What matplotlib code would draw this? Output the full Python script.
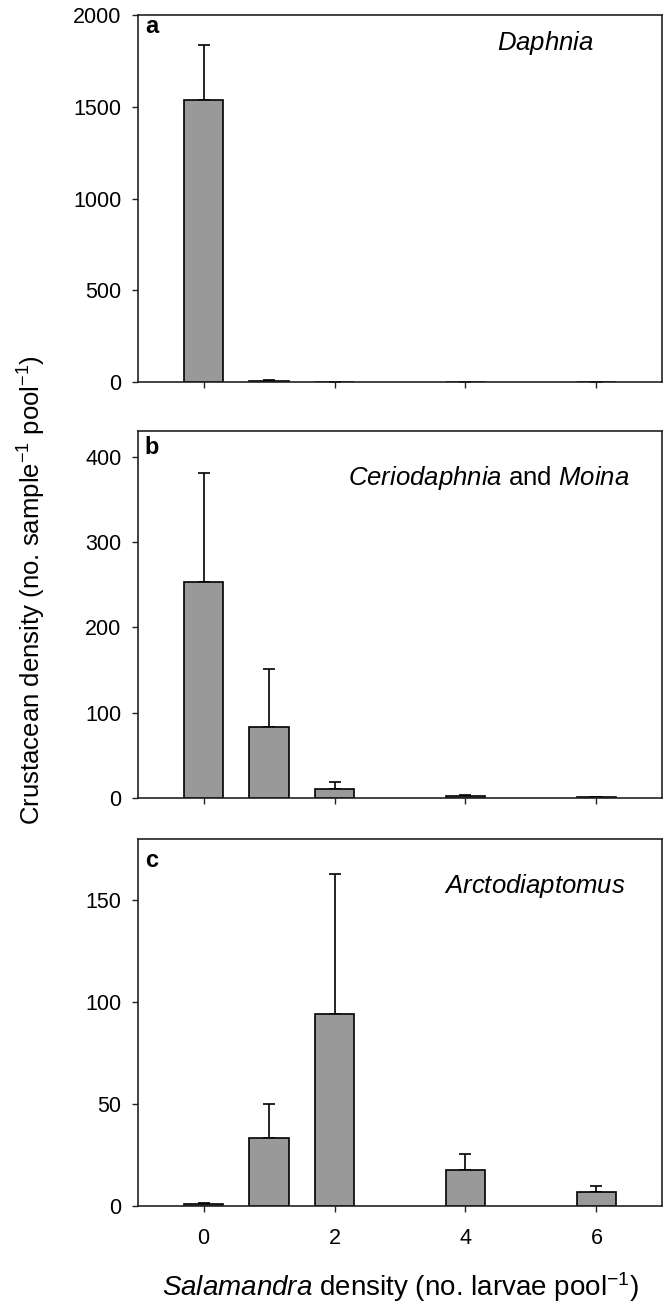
import matplotlib
matplotlib.use("Agg")
import matplotlib.pyplot as plt

plt.rcParams['font.family'] = ['Liberation Sans', 'DejaVu Sans']
plt.rcParams['mathtext.fontset'] = 'custom'
plt.rcParams['mathtext.rm'] = 'Liberation Sans'
plt.rcParams['mathtext.it'] = 'Liberation Sans:italic'
plt.rcParams['mathtext.bf'] = 'Liberation Sans:bold'

# salamander larvae per pool
densities = [0, 1, 2, 4, 6]

# panel a - Daphnia
daphnia_mean = [1538, 8, 1, 0, 0]
daphnia_se = [300, 4, 1, 0, 0]

# panel b - Ceriodaphnia and Moina
cerio_mean = [253, 83, 10, 2, 1]
cerio_se = [128, 68, 9, 1, 0.5]

# panel c - Arctodiaptomus
arcto_mean = [1, 33.5, 94, 17.5, 7]
arcto_se = [0.5, 16.5, 69, 8, 2.8]

panel_letters = ['a', 'b', 'c']
species_labels = [r'$\mathit{Daphnia}$',
                  r'$\mathit{Ceriodaphnia}$ and $\mathit{Moina}$',
                  r'$\mathit{Arctodiaptomus}$']
y_limits = [2000, 430, 180]
y_ticks = [[0, 500, 1000, 1500, 2000],
           [0, 100, 200, 300, 400],
           [0, 50, 100, 150]]
x_ticks = [0, 2, 4, 6]

means = [daphnia_mean, cerio_mean, arcto_mean]
errors = [daphnia_se, cerio_se, arcto_se]

fig = plt.figure(figsize=(6.67, 13.03), dpi=100)

# axes boxes in figure fraction
left, width, height = 0.2069, 0.7856, 0.2817
bottoms = [0.7068, 0.3876, 0.0744]
letter_y = [0.951, 0.937, 0.924]
species_pos = [(0.87, 0.905), (0.939, 0.853), (0.93, 0.853)]

for i in range(3):
    ax = fig.add_axes([left, bottoms[i], width, height])
    ax.bar(densities, means[i], width=0.6, color='#999999',
           edgecolor='black', linewidth=1.2, zorder=2)
    ax.errorbar(densities, means[i], yerr=[[0] * 5, errors[i]], fmt='none',
                ecolor='black', elinewidth=1.2, capsize=4.5, capthick=1.2,
                zorder=1)
    ax.set_xlim(-1, 7)
    ax.set_ylim(0, y_limits[i])
    ax.set_yticks(y_ticks[i])
    ax.set_xticks(x_ticks)
    ax.tick_params(direction='out', length=4, width=1.0, labelsize=15.5,
                   color='#222222')
    ax.tick_params(axis='y', pad=8)
    ax.tick_params(axis='x', pad=12)
    if i < 2:
        ax.set_xticklabels([])
    for sp in ax.spines.values():
        sp.set_linewidth(1.2)
        sp.set_color('#222222')
    ax.text(0.013, letter_y[i], panel_letters[i], transform=ax.transAxes,
            fontsize=17, fontweight='bold', va='baseline', ha='left')
    ax.text(species_pos[i][0], species_pos[i][1], species_labels[i],
            transform=ax.transAxes, fontsize=18.5, ha='right', va='baseline')

fig.text(0.048, 0.547, r'Crustacean density (no. sample$^{\mathregular{-1}}$ pool$^{\mathregular{-1}}$)',
         rotation=90, fontsize=18.5, ha='center', va='center')
fig.text(0.6, 0.012, r'$\mathit{Salamandra}$ density (no. larvae pool$^{\mathregular{-1}}$)',
         fontsize=20, ha='center', va='center')

fig.savefig('out.png', dpi=100)
